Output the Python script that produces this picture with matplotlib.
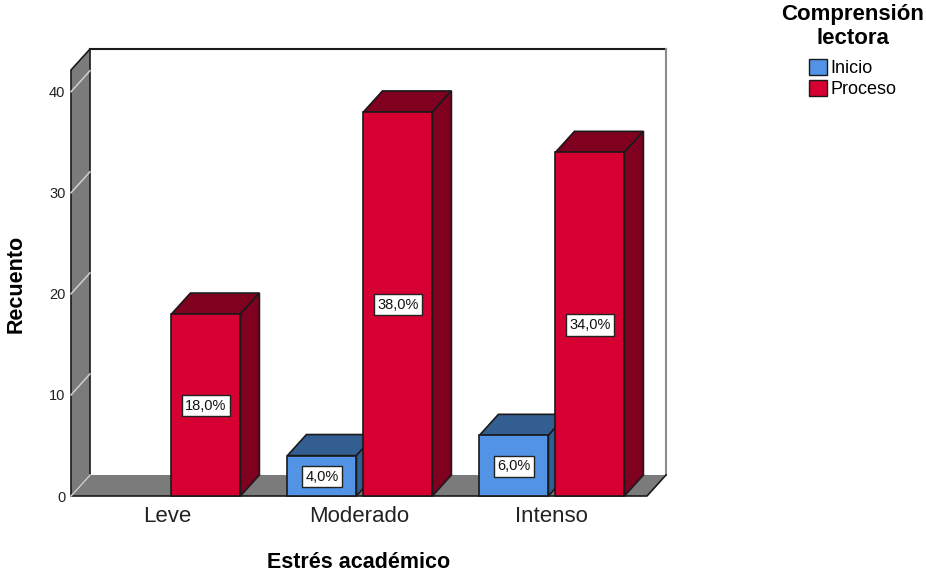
import matplotlib
matplotlib.use('Agg')
import matplotlib.pyplot as plt
from matplotlib.patches import Patch, Polygon

plt.rcParams['font.family'] = ['Liberation Sans', 'DejaVu Sans']

categories = ['Leve', 'Moderado', 'Intenso']
inicio = [0, 4, 6]
proceso = [18, 38, 34]
inicio_pct = ['', '4,0%', '6,0%']
proceso_pct = ['18,0%', '38,0%', '34,0%']
yticks = [0, 10, 20, 30, 40]

W, H = 926, 573
# depth of the fake 3d box, in data units
DX = 19 / 192
DY = 2.08
FRONT_TOP = 42.15
BAR_W = 69 / 192
BAR_STEP = 76 / 192

BLUE = ('#5393e6', '#335e92')
RED = ('#d60032', '#80001f')
GREY = '#7b7b7b'
EDGE = '#1a1a1a'

fig = plt.figure(figsize=(W / 100, H / 100), dpi=100)
ax = fig.add_axes([71 / W, 1 - 496 / H, 595 / W, 447 / H])
ax.set_xlim(-0.5, 2.5 + DX)
ax.set_ylim(0, FRONT_TOP + DY)
ax.patch.set_visible(False)
for s in ax.spines.values():
    s.set_visible(False)


def poly(pts, fc, ec=EDGE, lw=1.2, z=1):
    ax.add_patch(Polygon(pts, closed=True, facecolor=fc, edgecolor=ec, linewidth=lw,
                         zorder=z, clip_on=False, joinstyle='miter'))


def bar3d(x0, v, colors, z):
    x1 = x0 + BAR_W
    poly([(x0, v), (x0 + DX, v + DY), (x1 + DX, v + DY), (x1, v)], colors[1], z=z)
    poly([(x1, 0), (x1 + DX, DY), (x1 + DX, v + DY), (x1, v)], colors[1], z=z)
    poly([(x0, 0), (x1, 0), (x1, v), (x0, v)], colors[0], z=z)


def bar_label(x, v, s):
    ax.text(x, v / 2 - 0.08, s, ha='center', va='center', fontsize=10.5, color='#111111', zorder=20,
            bbox=dict(boxstyle='square,pad=0.25', fc='white', ec='#222222', lw=1))


# box: back wall, left wall, floor
left, right = -0.5, 2.5
poly([(left + DX, DY), (right + DX, DY), (right + DX, FRONT_TOP + DY), (left + DX, FRONT_TOP + DY)],
     'white', ec='none', z=1)
ax.plot([left + DX, right + DX], [FRONT_TOP + DY] * 2, color=EDGE, lw=1.5, zorder=2, clip_on=False)
ax.plot([right + DX] * 2, [DY, FRONT_TOP + DY], color='#8c8c8c', lw=1.5, zorder=2, clip_on=False)
poly([(left, 0), (left + DX, DY), (left + DX, FRONT_TOP + DY), (left, FRONT_TOP)], GREY, z=3)
poly([(left, 0), (right, 0), (right + DX, DY), (left + DX, DY)], GREY, ec='none', z=3)
ax.plot([left, right, right + DX], [0, 0, DY], color=EDGE, lw=1.2, zorder=4, clip_on=False)
for t in yticks:
    ax.plot([left, left + DX], [t, t + DY], color='#d0d0d0', lw=1.1, zorder=4, clip_on=False)

# bars, drawn left to right so each front hides the side of the one before it
z = 5
for i in range(len(categories)):
    x_b = i + 0.023
    x_a = x_b - BAR_STEP
    if inicio[i] > 0:
        bar3d(x_a, inicio[i], BLUE, z)
        bar_label(x_a + BAR_W / 2, inicio[i], inicio_pct[i])
        z += 1
    bar3d(x_b, proceso[i], RED, z)
    bar_label(x_b + BAR_W / 2, proceso[i], proceso_pct[i])
    z += 1

ax.set_yticks(yticks)
ax.set_xticks(range(len(categories)))
ax.set_xticklabels(categories, fontsize=16, color='#222222')
ax.tick_params(axis='x', length=0, pad=7.5)
ax.tick_params(axis='y', length=0, pad=4, labelsize=10.5, labelcolor='#222222')

ax.set_xlabel('Estrés académico', fontsize=15.5, fontweight='bold')
ax.xaxis.set_label_coords(288 / 595, -56 / 447)
ax.set_ylabel('Recuento', fontsize=15.5, fontweight='bold')
ax.yaxis.set_label_coords(-44 / 595, 212 / 447)

handles = [Patch(facecolor=BLUE[0], edgecolor=EDGE, label='Inicio'),
           Patch(facecolor=RED[0], edgecolor=EDGE, label='Proceso')]
leg = fig.legend(handles=handles, title='Comprensión\nlectora', loc='upper center',
                 bbox_to_anchor=(852.5 / W, 1 - 2 / H), frameon=False, fontsize=13,
                 handlelength=1.0, handleheight=1.0, handletextpad=0.2, labelspacing=0.17,
                 borderaxespad=0, borderpad=0.1,
                 title_fontproperties={'weight': 'bold', 'size': 16, 'family': 'Liberation Sans'})
leg.get_title().set_multialignment('center')
leg._legend_box.sep = 7

fig.savefig('out.png', dpi=100)
